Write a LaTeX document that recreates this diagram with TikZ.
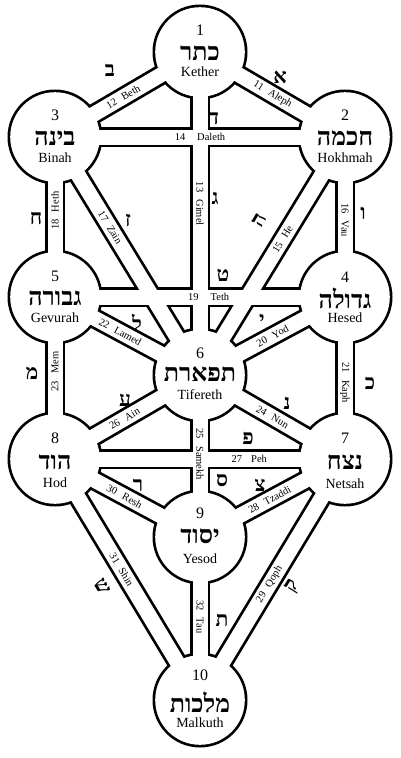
\documentclass[tikz,border=0pt]{standalone}
\usepackage{fontspec}
\setmainfont{Liberation Serif}
\newfontfamily\hebfont[Script=Hebrew]{Liberation Serif}
\TeXXeTstate=1
\usetikzlibrary{positioning}

\newcommand{\heb}[1]{{\hebfont\bfseries\beginR #1\endR}}

\begin{document}
\begin{tikzpicture}[x=1pt, y=-1pt,
    rim/.style={line width=20.5pt, black},
    gap/.style={line width=15pt, white},
    num/.style={font=\fontsize{16}{16}\selectfont, inner sep=0pt},
    hebname/.style={font=\fontsize{25}{25}\selectfont, inner sep=0pt},
    sname/.style={font=\fontsize{14}{14}\selectfont, inner sep=0pt},
    plab/.style={font=\fontsize{10.5}{10.5}\selectfont, inner sep=0pt, sloped},
    letter/.style={font=\fontsize{21}{21}\selectfont, inner sep=0pt}]

    \useasboundingbox (0,0) rectangle (400,758);

    % centres of the sephiroth
    \coordinate (kether) at (200,52);
    \coordinate (hokhmah) at (345,137);
    \coordinate (binah) at (55,137);
    \coordinate (hesed) at (345,297);
    \coordinate (gevurah) at (55,297);
    \coordinate (tifereth) at (200,375);
    \coordinate (netsah) at (345,459);
    \coordinate (hod) at (55,459);
    \coordinate (yesod) at (200,537);
    \coordinate (malkuth) at (200,700);

    % outline of paths and spheres
    \foreach \a/\b in {kether/hokhmah, kether/binah, kether/tifereth, binah/hokhmah,
        hokhmah/tifereth, hokhmah/hesed, binah/tifereth, binah/gevurah, gevurah/hesed,
        hesed/tifereth, hesed/netsah, gevurah/tifereth, gevurah/hod, tifereth/netsah,
        tifereth/yesod, hod/tifereth, hod/netsah, netsah/yesod, netsah/malkuth,
        hod/yesod, hod/malkuth, yesod/malkuth}
        \draw[rim] (\a) -- (\b);
    \foreach \s in {kether, hokhmah, binah, hesed, gevurah, tifereth, netsah, hod, yesod, malkuth}
        \fill (\s) circle (47.5);

    % hollow them out
    \foreach \a/\b in {kether/hokhmah, kether/binah, kether/tifereth, binah/hokhmah,
        hokhmah/tifereth, hokhmah/hesed, binah/tifereth, binah/gevurah, gevurah/hesed,
        hesed/tifereth, hesed/netsah, gevurah/tifereth, gevurah/hod, tifereth/netsah,
        tifereth/yesod, hod/tifereth, hod/netsah, netsah/yesod, netsah/malkuth,
        hod/yesod, hod/malkuth, yesod/malkuth}
        \draw[gap] (\a) -- (\b);
    \foreach \s in {kether, hokhmah, binah, hesed, gevurah, tifereth, netsah, hod, yesod, malkuth}
        \fill[white] (\s) circle (44.8);

    % sephiroth
    \node[num] (kether-n) at ([yshift=22pt]kether) {1};
    \node[hebname] (kether-h) at ([yshift=-1pt]kether) {\heb{כתר}};
    \node[sname] (kether-l) at ([yshift=-20pt]kether) {Kether};

    \node[num] (hokhmah-n) at ([yshift=22pt]hokhmah) {2};
    \node[hebname] (hokhmah-h) at ([yshift=-1pt]hokhmah) {\heb{חכמה}};
    \node[sname] (hokhmah-l) at ([yshift=-21pt]hokhmah) {Hokhmah};

    \node[num] (binah-n) at ([yshift=22pt]binah) {3};
    \node[hebname] (binah-h) at ([yshift=-1pt]binah) {\heb{בינה}};
    \node[sname] (binah-l) at ([yshift=-21pt]binah) {Binah};

    \node[num] (hesed-n) at ([yshift=20pt]hesed) {4};
    \node[hebname] (hesed-h) at ([yshift=-1pt]hesed) {\heb{גדולה}};
    \node[sname] (hesed-l) at ([yshift=-21pt]hesed) {Hesed};

    \node[num] (gevurah-n) at ([yshift=21pt]gevurah) {5};
    \node[hebname] (gevurah-h) at ([yshift=-1pt]gevurah) {\heb{גבורה}};
    \node[sname] (gevurah-l) at ([yshift=-21pt]gevurah) {Gevurah};

    \node[num] (tifereth-n) at ([yshift=22pt]tifereth) {6};
    \node[hebname] (tifereth-h) at ([yshift=1pt]tifereth) {\heb{תפארת}};
    \node[sname] (tifereth-l) at ([yshift=-20pt]tifereth) {Tifereth};

    \node[num] (netsah-n) at ([yshift=21pt]netsah) {7};
    \node[hebname] (netsah-h) at ([yshift=-3pt]netsah) {\heb{נצח}};
    \node[sname] (netsah-l) at ([yshift=-25pt]netsah) {Netsah};

    \node[num] (hod-n) at ([yshift=21pt]hod) {8};
    \node[hebname] (hod-h) at ([yshift=-3pt]hod) {\heb{הוד}};
    \node[sname] (hod-l) at ([yshift=-24pt]hod) {Hod};

    \node[num] (yesod-n) at ([yshift=24pt]yesod) {9};
    \node[hebname] (yesod-h) at ([yshift=1pt]yesod) {\heb{יסוד}};
    \node[sname] (yesod-l) at ([yshift=-22pt]yesod) {Yesod};

    \node[num] (malkuth-n) at ([yshift=25pt]malkuth) {10};
    \node[hebname] (malkuth-h) at ([yshift=-2pt]malkuth) {\heb{מלכות}};
    \node[sname] (malkuth-l) at ([yshift=-23pt]malkuth) {Malkuth};

    % path names
    \path (kether) -- (hokhmah) node[plab, pos=0.5] (p11) {11\hspace{7pt}Aleph};
    \path (binah) -- (kether) node[plab, pos=0.47] (p12) {12\hspace{7pt}Beth};
    \path (kether) -- (tifereth) node[plab, pos=0.47] (p13) {13\hspace{7pt}Gimel};
    \path (binah) -- (hokhmah) node[plab, pos=0.5] (p14) {14\hspace{12pt}Daleth};
    \path (tifereth) -- (hokhmah) node[plab, pos=0.57] (p15) {15\hspace{7pt}He};
    \path (hokhmah) -- (hesed) node[plab, pos=0.52] (p16) {16\hspace{7pt}Vau};
    \path (binah) -- (tifereth) node[plab, pos=0.38] (p17) {17\hspace{7pt}Zain};
    \path (gevurah) -- (binah) node[plab, pos=0.54] (p18) {18\hspace{7pt}Heth};
    \path (gevurah) -- (hesed) node[plab, pos=0.53] (p19) {19\hspace{12pt}Teth};
    \path (tifereth) -- (hesed) node[plab, pos=0.5] (p20) {20\hspace{7pt}Yod};
    \path (hesed) -- (netsah) node[plab, pos=0.53] (p21) {21\hspace{7pt}Kaph};
    \path (gevurah) -- (tifereth) node[plab, pos=0.45] (p22) {22\hspace{7pt}Lamed};
    \path (hod) -- (gevurah) node[plab, pos=0.54] (p23) {23\hspace{7pt}Mem};
    \path (tifereth) -- (netsah) node[plab, pos=0.5] (p24) {24\hspace{7pt}Nun};
    \path (tifereth) -- (yesod) node[plab, pos=0.49] (p25) {25\hspace{7pt}Samekh};
    \path (hod) -- (tifereth) node[plab, pos=0.48] (p26) {26\hspace{7pt}Ain};
    \path (hod) -- (netsah) node[plab, pos=0.67] (p27) {27\hspace{9pt}Peh};
    \path (yesod) -- (netsah) node[plab, pos=0.48] (p28) {28\hspace{7pt}Tzaddi};
    \path (malkuth) -- (netsah) node[plab, pos=0.48] (p29) {29\hspace{7pt}Qoph};
    \path (hod) -- (yesod) node[plab, pos=0.48] (p30) {30\hspace{7pt}Resh};
    \path (hod) -- (malkuth) node[plab, pos=0.46] (p31) {31\hspace{7pt}Shin};
    \path (yesod) -- (malkuth) node[plab, pos=0.49] (p32) {32\hspace{7pt}Tau};

    % letters of the paths
    \node[letter] (aleph) at (280,77) {\heb{א}};
    \node[letter] (beth) at (110,70) {\heb{ב}};
    \node[letter] (gimel) at (215,198) {\heb{ג}};
    \node[letter] (daleth) at (214,118) {\heb{ד}};
    \node[letter, rotate=60] (he) at (259,220) {\heb{ה}};
    \node[letter] (vau) at (363,213) {\heb{ו}};
    \node[letter] (zain) at (128,220) {\heb{ז}};
    \node[letter] (heth) at (36,218) {\heb{ח}};
    \node[letter] (teth) at (223,275) {\heb{ט}};
    \node[letter] (yod) at (262,320) {\heb{י}};
    \node[letter] (kaph) at (370,383) {\heb{כ}};
    \node[letter] (lamed) at (137,323) {\heb{ל}};
    \node[letter] (mem) at (32,373) {\heb{מ}};
    \node[letter] (nun) at (287,403) {\heb{נ}};
    \node[letter] (samekh) at (222,480) {\heb{ס}};
    \node[letter] (ain) at (125,400) {\heb{ע}};
    \node[letter] (peh) at (248,438) {\heb{פ}};
    \node[letter] (tzaddi) at (260,485) {\heb{צ}};
    \node[letter, rotate=58] (qoph) at (293,587) {\heb{ק}};
    \node[letter] (resh) at (138,485) {\heb{ר}};
    \node[letter, rotate=-58] (shin) at (102,587) {\heb{ש}};
    \node[letter] (tau) at (222,620) {\heb{ת}};

\end{tikzpicture}
\end{document}
